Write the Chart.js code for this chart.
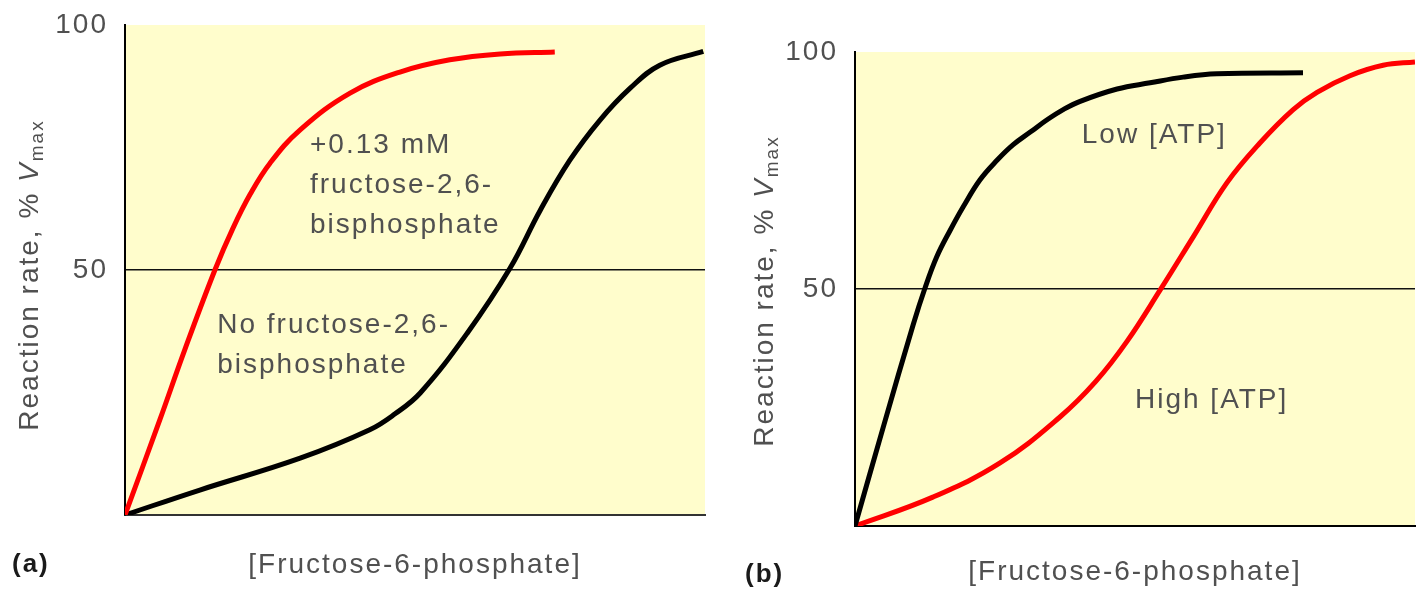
<!DOCTYPE html>
<html lang="en">
<head>
<meta charset="UTF-8">
<title>PFK-1 regulation</title>
<script src="https://cdn.jsdelivr.net/npm/chart.js"></script>
<style>
    body { margin: 0; background: #fff; }
    .panel { position: absolute; top: 0; height: 590px; }
    #panelA { left: 0; width: 720px; }
    #panelB { left: 720px; width: 704px; }
</style>
</head>
<body>
<div class="panel" id="panelA"><canvas id="chartA"></canvas></div>
<div class="panel" id="panelB"><canvas id="chartB"></canvas></div>
<script>
// (a) +0.13 mM fructose-2,6-bisphosphate (red) vs none (black)
const aWithX = [0, 6, 10.3, 15.5, 18.6, 21.6, 25, 30.2, 38.8, 47.4, 56, 64.7, 74.1];
const aWithY = [0, 19.4, 33.7, 50, 58.5, 65.5, 71.8, 78.6, 86.1, 90.4, 92.9, 94.1, 94.5];
const aNoneX = [0, 12.9, 30.2, 42.2, 46.5, 50.9, 59, 66.4, 71.6, 76.7, 81.9, 87.1, 92.2, 99.7];
const aNoneY = [0, 5.1, 11.6, 17.4, 20.6, 24.9, 37.1, 50.4, 62.2, 72.4, 80.6, 87.1, 91.8, 94.6];

// (b) low [ATP] (black) vs high [ATP] (red)
const bLowX = [0, 5.2, 10.4, 12.5, 14.6, 17, 19.3, 22.3, 25.4, 28.2, 31.3, 34.3, 37.1, 40.2, 46.8, 52.7, 58.6, 64.6, 80];
const bLowY = [0, 21.5, 42.5, 50.2, 56.8, 62.4, 67.3, 73, 77.2, 80.4, 83.1, 85.7, 87.8, 89.6, 92.2, 93.5, 94.7, 95.4, 95.6];
const bHighX = [0, 13.9, 25.9, 36.6, 43, 48.6, 54.5, 60.4, 66.4, 72.3, 78.2, 82.5, 88.4, 94.3, 100];
const bHighY = [0, 6.1, 13.3, 23, 30.5, 39, 49.8, 61, 72.4, 80.8, 87.8, 91.5, 95, 97.2, 97.9];

const yTickLabels = [50, 100];
const xTitle = '[Fructose-6-phosphate]';

const FONT = '"Liberation Sans", Arial, sans-serif';
const TEXT = '#505050';

function pts(xs, ys) {
    return xs.map((x, i) => ({ x: x, y: ys[i] }));
}

function curve(xs, ys, color) {
    return {
        data: pts(xs, ys),
        borderColor: color,
        borderWidth: 5,
        pointRadius: 0,
        fill: false,
        tension: 0.4
    };
}

// panel decorations: yellow plot area, notes, y title with V_max, (a)/(b)
function decorPlugin(p) {
    return {
        id: 'decor',
        beforeDraw(chart) {
            const ctx = chart.ctx;
            const a = chart.chartArea;
            ctx.letterSpacing = '2px';
            ctx.save();
            ctx.fillStyle = '#fffdcc';
            ctx.fillRect(a.left, a.top, a.right - a.left, a.bottom - a.top);
            ctx.restore();
        },
        afterDatasetsDraw(chart) {
            const ctx = chart.ctx;
            const sx = chart.scales.x, sy = chart.scales.y;
            ctx.save();
            ctx.fillStyle = TEXT;
            ctx.font = '28px ' + FONT;
            ctx.textBaseline = 'middle';
            ctx.textAlign = 'left';
            p.notes.forEach(n => {
                const x0 = sx.getPixelForValue(n.x);
                const y0 = sy.getPixelForValue(n.y);
                n.lines.forEach((t, i) => ctx.fillText(t, x0, y0 + i * 40));
            });
            ctx.restore();
        },
        afterDraw(chart) {
            const ctx = chart.ctx;
            ctx.save();
            // y title
            ctx.translate(p.yTitleX, p.yTitleY);
            ctx.rotate(-Math.PI / 2);
            ctx.fillStyle = TEXT;
            ctx.textBaseline = 'middle';
            ctx.textAlign = 'left';
            const main = 'Reaction rate, % ';
            ctx.font = '28px ' + FONT;
            const w1 = ctx.measureText(main).width;
            ctx.font = 'italic 28px ' + FONT;
            const w2 = ctx.measureText('V').width;
            ctx.font = '19px ' + FONT;
            const w3 = ctx.measureText('max').width;
            let x = -(w1 + w2 + w3) / 2;
            ctx.font = '28px ' + FONT;
            ctx.fillText(main, x, 0);
            x += w1;
            ctx.font = 'italic 28px ' + FONT;
            ctx.fillText('V', x, 0);
            x += w2;
            ctx.font = '19px ' + FONT;
            ctx.fillText('max', x, 8);
            ctx.restore();

            ctx.save();
            ctx.fillStyle = '#1a1a1a';
            ctx.font = 'bold 26px ' + FONT;
            ctx.textBaseline = 'middle';
            ctx.textAlign = 'left';
            ctx.fillText(p.tag, p.tagX, p.tagY);
            ctx.restore();
        }
    };
}

function makePanel(id, p) {
    return new Chart(document.getElementById(id), {
        type: 'line',
        data: { datasets: p.datasets },
        options: {
            responsive: true,
            maintainAspectRatio: false,
            animation: false,
            layout: { padding: { left: 0, right: p.padRight, top: p.padTop, bottom: 0 } },
            plugins: { legend: { display: false }, tooltip: { enabled: false } },
            scales: {
                x: {
                    type: 'linear',
                    min: 0,
                    max: 100,
                    ticks: { display: false },
                    grid: { display: false },
                    border: { color: p.xBorder, width: 2 },
                    title: {
                        display: true,
                        text: xTitle,
                        color: TEXT,
                        font: { family: FONT, size: 28 },
                        padding: { top: 0, bottom: p.xTitlePad }
                    },
                    afterFit: s => { s.height = p.xHeight; s.paddingLeft = 0; s.paddingRight = 0; }
                },
                y: {
                    min: 0,
                    max: 100,
                    ticks: {
                        stepSize: 50,
                        padding: 17,
                        color: TEXT,
                        font: { family: FONT, size: 28 },
                        callback: v => yTickLabels.includes(v) ? v : ''
                    },
                    grid: {
                        drawTicks: false,
                        lineWidth: 1.5,
                        color: c => (c.tick && c.tick.value === 50) ? '#111' : 'rgba(0,0,0,0)'
                    },
                    border: { color: '#000', width: 2 },
                    afterFit: s => { s.width = p.yWidth; s.paddingTop = 0; s.paddingBottom = 0; }
                }
            }
        },
        plugins: [decorPlugin(p)]
    });
}

makePanel('chartA', {
    datasets: [curve(aWithX, aWithY, '#ff0000'), curve(aNoneX, aNoneY, '#000000')],
    notes: [
        { x: 31.9, y: 75.5, lines: ['+0.13 mM', 'fructose-2,6-', 'bisphosphate'] },
        { x: 15.9, y: 38.8, lines: ['No fructose-2,6-', 'bisphosphate'] }
    ],
    padRight: 15, padTop: 25, xHeight: 75, yWidth: 125, xTitlePad: 8,
    xBorder: '#333',
    yTitleX: 30, yTitleY: 275,
    tag: '(a)', tagX: 12, tagY: 565
});

makePanel('chartB', {
    datasets: [curve(bLowX, bLowY, '#000000'), curve(bHighX, bHighY, '#ff0000')],
    notes: [
        { x: 40.5, y: 82.5, lines: ['Low [ATP]'] },
        { x: 50, y: 26.6, lines: ['High [ATP]'] }
    ],
    padRight: 9, padTop: 52, xHeight: 64, yWidth: 135, xTitlePad: 1,
    xBorder: '#000',
    yTitleX: 45, yTitleY: 291,
    tag: '(b)', tagX: 25, tagY: 575
});
</script>
</body>
</html>
